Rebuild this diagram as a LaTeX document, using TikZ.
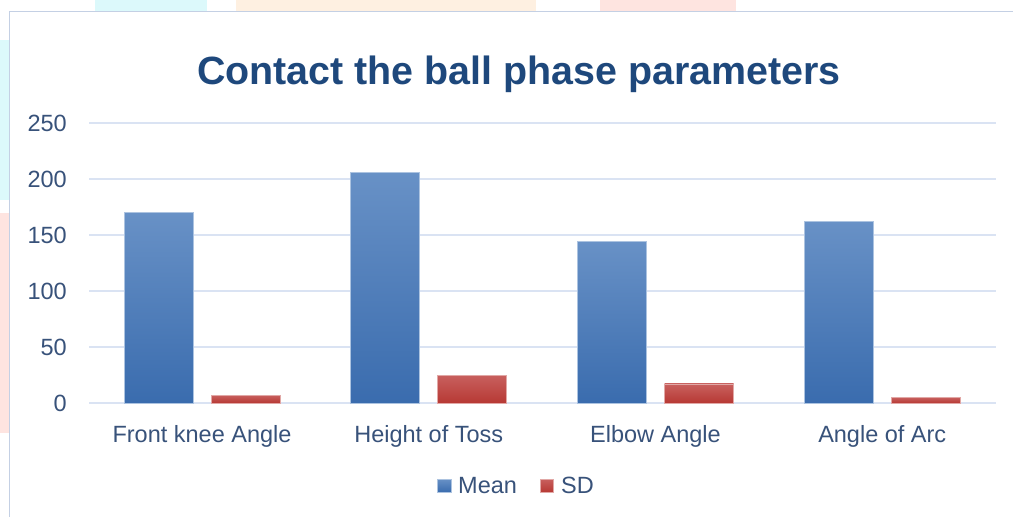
\documentclass[tikz,border=0pt]{standalone}
\usepackage{fontspec}
\setmainfont{Liberation Sans}
\usepackage{tikz}
\usetikzlibrary{calc,backgrounds}

\definecolor{titleblue}{RGB}{30,72,124}
\definecolor{axisblue}{RGB}{56,82,122}
\definecolor{gridblue}{RGB}{218,227,243}
\definecolor{framegray}{RGB}{196,208,228}
\definecolor{meantop}{RGB}{104,145,198}
\definecolor{meanbot}{RGB}{58,108,174}
\definecolor{sdtop}{RGB}{200,96,94}
\definecolor{sdbot}{RGB}{183,57,52}
\definecolor{bgcyan}{RGB}{220,249,251}
\definecolor{bgorange}{RGB}{254,240,225}
\definecolor{bgpink}{RGB}{254,228,224}

\tikzset{
  gridline/.style={draw=gridblue, line width=2pt},
  ticklabel/.style={anchor=base east, inner sep=0pt, text=axisblue,
    font=\fontsize{23.5}{23.5}\selectfont},
  catlabel/.style={anchor=base, inner sep=0pt, text=axisblue,
    font=\fontsize{23.5}{23.5}\selectfont},
  meanbar/.style={top color=meantop, bottom color=meanbot,
    draw=meantop!55!white, line width=0.8pt},
  sdbar/.style={top color=sdtop, bottom color=sdbot,
    draw=sdtop!55!white, line width=0.8pt},
}

\begin{document}
\begin{tikzpicture}[x=1pt,y=-1pt]
\useasboundingbox (0,0) rectangle (1013,517);
% faint page behind the chart
\fill[bgcyan] (95,0) rectangle (207,11);
\fill[bgorange] (236,0) rectangle (536,11);
\fill[bgpink] (600,0) rectangle (736,11);
\fill[bgcyan] (0,40) rectangle (9,200);
\fill[bgpink] (0,213) rectangle (9,433);
% chart frame
\fill[white] (9.5,11.5) rectangle (1013,517);
\draw[framegray, line width=1.5pt] (9.5,517) -- (9.5,11.5) -- (1013,11.5);

% title
\node[anchor=base, inner sep=0pt, text=titleblue,
  font=\fontsize{39.4}{39.4}\selectfont\bfseries] (title) at (519,84)
  {Contact the ball phase parameters};

% grid and y labels
\foreach \v in {0,50,...,250} {
  \draw[gridline] (89,{403-1.12*\v}) -- (996,{403-1.12*\v});
  \node[ticklabel] (tick\v) at (67,{411.5-1.12*\v}) {\v};
}

% bars: category, mean, sd
\foreach \i/\name/\m/\s in {0/Front knee Angle/170/7,
                            1/Height of Toss/206/25,
                            2/Elbow Angle/144/17,
                            3/Angle of Arc/162/5} {
  \pgfmathsetmacro{\cx}{202+226.75*\i}
  \fill[meanbar] ({\cx-78},403) rectangle ({\cx-9},{403-1.12*\m});
  \fill[sdbar] ({\cx+9},403) rectangle ({\cx+78},{403-1.12*\s});
  \node[catlabel] (cat\i) at (\cx,442) {\name};
}

% legend
\fill[meanbar] (437,479) rectangle (451,492);
\node[anchor=base west, inner sep=0pt, text=axisblue,
  font=\fontsize{23.5}{23.5}\selectfont] (legmean) at (458,493) {Mean};
\fill[sdbar] (540,479) rectangle (553,492);
\node[anchor=base west, inner sep=0pt, text=axisblue,
  font=\fontsize{23.5}{23.5}\selectfont] (legsd) at (561,493) {SD};
\end{tikzpicture}
\end{document}
